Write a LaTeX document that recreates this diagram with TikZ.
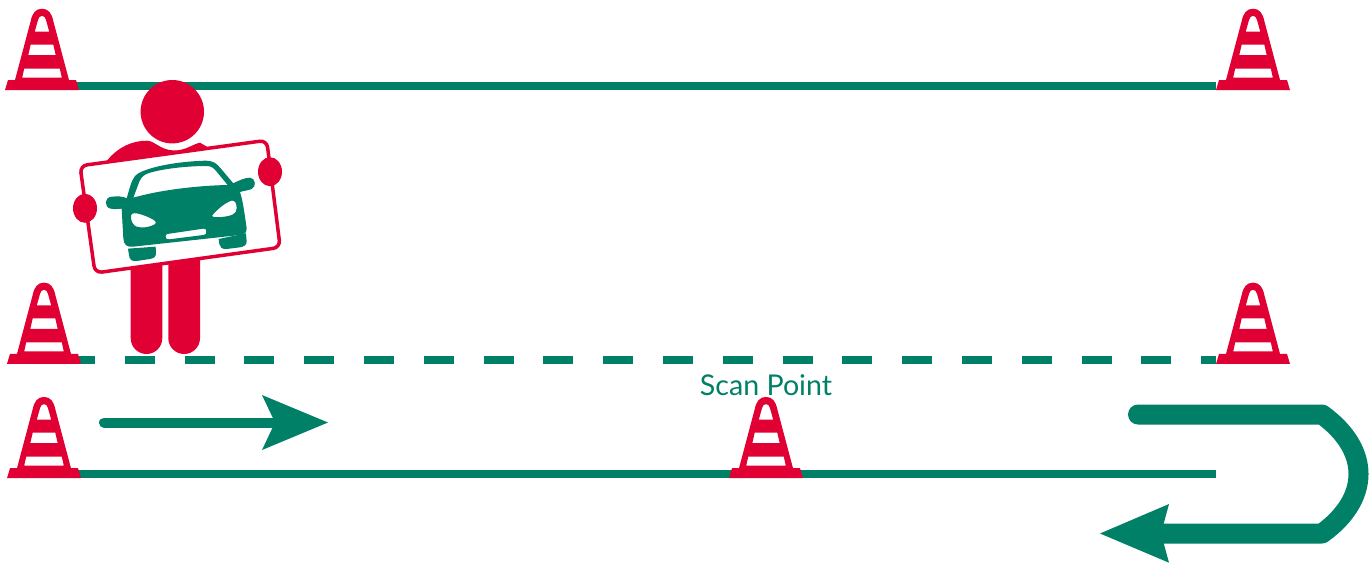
\documentclass[tikz,border=0pt]{standalone}
\usepackage{fontspec}
\setmainfont{Lato}
\definecolor{conered}{HTML}{E00034}
\definecolor{roadgreen}{HTML}{008066}
\tikzset{
  roadline/.style={draw=roadgreen,line width=7.8pt},
  cone/.pic={
    \fill[conered,even odd rule]
      (-37,0) -- (-34,-10) -- (-27,-10) -- (-11.3,-69)
      .. controls (-9.8,-76.5) and (-6.5,-81.3) .. (0,-81.3)
      .. controls (6.5,-81.3) and (9.8,-76.5) .. (11.3,-69)
      -- (27,-10) -- (34,-10) -- (37,0) -- cycle
      (-7.2,-58.5) -- (-4,-70) .. controls (-3,-75.5) and (3,-75.5) .. (4,-70) -- (7.2,-58.5) -- cycle
      (-11.3,-45.5) -- (11.3,-45.5) -- (13.7,-35) -- (-13.7,-35) -- cycle
      (-17.8,-21.5) -- (17.8,-21.5) -- (19.8,-12.5) -- (-19.8,-12.5) -- cycle;
  }
}
\begin{document}
\begin{tikzpicture}[x=1pt,y=-1pt]
\useasboundingbox (0,0) rectangle (1372,563);
% anchors
\coordinate (c1) at (42,90);
\coordinate (c2) at (1253,90);
\coordinate (c3) at (44,363.9);
\coordinate (c4) at (1253,363.9);
\coordinate (c5) at (44,478.2);
\coordinate (c6) at (766,478.2);
\coordinate (la) at (76,86);
\coordinate (lb) at (1216,86);
\coordinate (da) at (79,360.3);
\coordinate (db) at (1216,360.3);
\coordinate (ba) at (76,474.3);
\coordinate (bb) at (1216,474.3);
% road lines
\draw[roadline] (la) -- (lb);
\draw[roadline,dash pattern=on 29.9pt off 29.9pt,dash phase=14pt] (da) -- (db);
\draw[roadline] (ba) -- (bb);
% cones
\foreach \c in {c1,c2,c3,c4,c5,c6} { \pic at (\c) {cone}; }
% person
\fill[conered] (172.3,111.7) circle (31.7);
\fill[conered] (130.7,250) -- (162.3,250) -- (162.3,338.2) arc (0:-180:15.8 and -15.8) -- cycle;
\fill[conered] (168.3,250) -- (200,250) -- (200,338.2) arc (0:-180:15.85 and -15.8) -- cycle;
\fill[conered] (100,180) -- (106.7,161) .. controls (118,147) and (132,140.7) .. (147,140.7)
  .. controls (155,141) and (160,150) .. (174,150.5)
  .. controls (186,150.5) and (193,144) .. (200,142.7) -- (207,146.7) -- (215,190) -- cycle;
% sign
\draw[conered,line width=3.5pt,fill=white,rounded corners=7pt]
  (80,165.8) -- (266.7,140.3) -- (280.2,247.4) -- (95,273) -- cycle;
\fill[conered] (270,171.7) ellipse (12 and 14.5);
\fill[conered] (85,208.3) ellipse (12 and 14.5);
% car
\begin{scope}[shift={(90,140)},x=0.3333pt,y=-0.3333pt]
\fill[roadgreen,even odd rule]
  (110,175) .. controls (118,150) and (122,125) .. (135,108)
  .. controls (150,90) and (230,66) .. (345,62)
  .. controls (370,62) and (380,70) .. (392,85) -- (430,130)
  .. controls (445,122) and (465,113) .. (480,113)
  .. controls (497,115) and (500,140) .. (485,147)
  .. controls (475,151) and (460,153) .. (450,156)
  .. controls (458,180) and (463,215) .. (470,265)
  .. controls (470,278) and (465,283) .. (450,285)
  -- (130,320) .. controls (110,322) and (102,315) .. (100,295)
  -- (95,206) .. controls (85,207) and (72,208) .. (62,206)
  .. controls (42,202) and (42,172) .. (65,170)
  .. controls (80,169) and (100,168) .. (110,175) -- cycle
  (130,173) -- (148,125) .. controls (155,108) and (165,103) .. (180,98)
  .. controls (230,84) and (300,78) .. (350,78)
  .. controls (365,78) and (372,85) .. (380,95) -- (413,135)
  .. controls (320,137) and (210,150) .. (130,173) -- cycle
  (123,232) .. controls (122,222) and (128,218) .. (140,220)
  .. controls (160,224) and (190,236) .. (197,245)
  .. controls (200,252) and (190,258) .. (165,262)
  .. controls (135,264) and (125,255) .. (123,232) -- cycle
  (367,226) .. controls (380,210) and (405,188) .. (425,182)
  .. controls (435,180) and (440,190) .. (440,205)
  .. controls (440,222) and (425,228) .. (395,231)
  .. controls (375,232) and (365,232) .. (367,226) -- cycle
  (232,282) -- (340,266) .. controls (347,265) and (349,268) .. (349,275)
  .. controls (349,282) and (347,284) .. (340,285) -- (238,298)
  .. controls (230,299) and (227,296) .. (227,290) .. controls (227,285) and (228,283) .. (232,282) -- cycle;
\fill[roadgreen] (114,326) -- (197,320) -- (198,340)
  .. controls (198,350) and (192,355) .. (180,357) -- (140,363)
  .. controls (125,365) and (118,358) .. (117,345) -- cycle;
\fill[roadgreen] (386,297) -- (468,280) -- (470,305)
  .. controls (470,315) and (462,320) .. (450,322) -- (410,327)
  .. controls (395,328) and (389,320) .. (388,312) -- cycle;
\end{scope}
% label
\node[text=roadgreen,font=\fontsize{28.6}{32}\selectfont,inner sep=0pt] (scan) at (766,385) {Scan Point};
% small arrow
\coordinate (a1) at (104,422.5);
\coordinate (a2) at (285,422.5);
\draw[draw=roadgreen,line width=10pt,line cap=round] (a1) -- (a2);
\fill[roadgreen] (328,422.5) -- (262,395) -- (275,422.5) -- (262,450) -- cycle;
% U-turn arrow
\coordinate (u1) at (1138,414.5);
\coordinate (u2) at (1140,533.5);
\draw[roadgreen,line width=20pt,line cap=round,line join=round]
  (u1) -- (1322,414.5) .. controls (1345,431) and (1358.5,452) .. (1358.5,474)
  .. controls (1358.5,496) and (1345,517) .. (1322,533.5) -- (u2);
\fill[roadgreen] (1100,533.5) -- (1169,504) -- (1161,533.5) -- (1169,562.7) -- cycle;
\end{tikzpicture}
\end{document}
